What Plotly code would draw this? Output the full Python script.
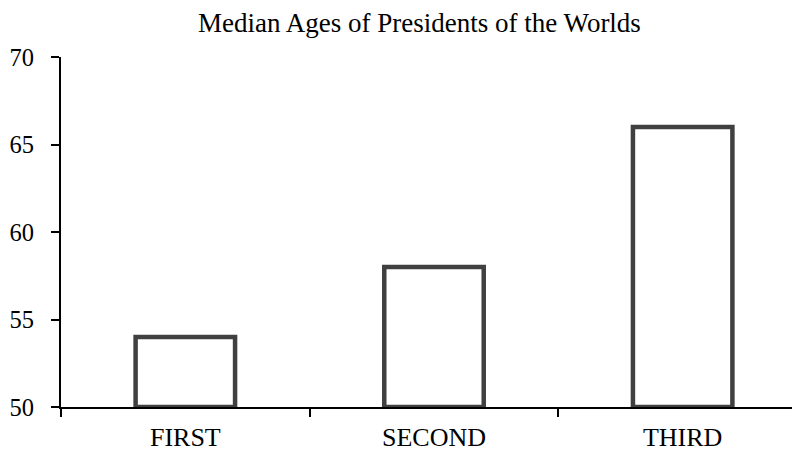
import plotly.graph_objects as go

categories = ["FIRST", "SECOND", "THIRD"]
median_ages = [54, 58, 66]
y_ticks = [50, 55, 60, 65, 70]
axis_base = 50

fig = go.Figure()
fig.add_trace(go.Bar(
    x=categories,
    y=[v - axis_base for v in median_ages],
    base=axis_base,
    width=0.4,
    marker=dict(color="white", line=dict(color="#404040", width=4.5)),
    showlegend=False,
))

font_family = "Liberation Serif, Times New Roman, serif"
fig.update_layout(
    width=800, height=452,
    margin=dict(l=53, r=1, t=49, b=53, autoexpand=False),
    paper_bgcolor="white", plot_bgcolor="white",
    font=dict(family=font_family, color="black"),
    title=dict(text="Median Ages of Presidents of the Worlds",
               font=dict(size=27, family=font_family, color="black"),
               x=411.5/800, xanchor="center", xref="container",
               y=1 - 14.5/452, yanchor="middle", yref="container"),
    xaxis=dict(range=[-0.5, 2.5], showgrid=False, zeroline=False,
               showline=True, linecolor="black", linewidth=2,
               ticks="outside", tickson="boundaries", ticklen=8, tickwidth=1.5,
               tickcolor="black", tickfont=dict(size=26, family=font_family),
               ticklabelstandoff=6),
    yaxis=dict(range=[50, 70], tickvals=y_ticks, showgrid=False, zeroline=False,
               showline=True, linecolor="black", linewidth=2,
               ticks="outside", ticklen=8, tickwidth=2, tickcolor="black",
               tickfont=dict(size=24.5, family=font_family),
               ticklabelstandoff=12),
)

fig.write_html("out.html")
